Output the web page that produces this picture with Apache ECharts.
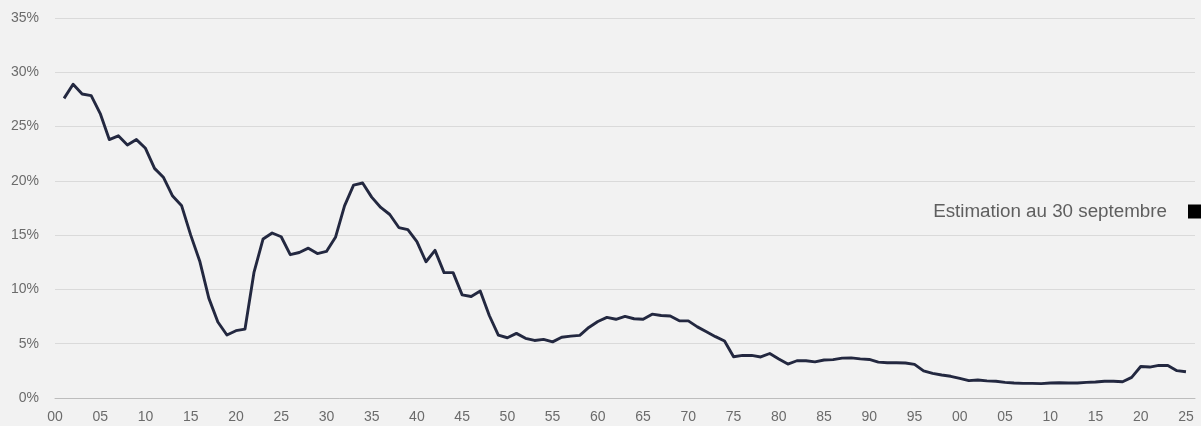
<!DOCTYPE html>
<html>
<head>
<meta charset="utf-8">
<script src="https://cdn.jsdelivr.net/npm/echarts@6/dist/echarts.min.js"></script>
<style>
  html, body { margin: 0; padding: 0; background: #f2f2f2; }
  #chart { width: 1201px; height: 426px; }
</style>
</head>
<body>
<div id="chart"></div>
<script>
// Years of the series (1901 .. 2025)
const years = [];
for (let y = 1901; y <= 2025; y++) years.push(y);

// Values (%), one per year
const values = [
  27.6, 28.9, 28.0, 27.85, 26.2, 23.8, 24.15, 23.3, 23.8, 23.0,   // 1901-1910
  21.15, 20.3, 18.6, 17.7, 15.0, 12.6, 9.2, 7.0, 5.8, 6.2,        // 1911-1920
  6.35, 11.6, 14.65, 15.2, 14.85, 13.2, 13.4, 13.8, 13.3, 13.5,   // 1921-1930
  14.8, 17.7, 19.6, 19.8, 18.5, 17.55, 16.9, 15.7, 15.5, 14.4,    // 1931-1940
  12.55, 13.6, 11.55, 11.55, 9.5, 9.35, 9.85, 7.6, 5.8, 5.55,     // 1941-1950
  5.95, 5.5, 5.3, 5.4, 5.17, 5.6, 5.7, 5.77, 6.5, 7.05,           // 1951-1960
  7.42, 7.25, 7.52, 7.3, 7.25, 7.72, 7.6, 7.55, 7.12, 7.1,        // 1961-1970
  6.55, 6.1, 5.65, 5.25, 3.8, 3.93, 3.92, 3.78, 4.1, 3.6,         // 1971-1980
  3.13, 3.43, 3.43, 3.33, 3.5, 3.53, 3.67, 3.7, 3.6, 3.55,        // 1981-1990
  3.3, 3.25, 3.25, 3.22, 3.1, 2.5, 2.27, 2.12, 2.0, 1.8,          // 1991-2000
  1.6, 1.66, 1.58, 1.54, 1.44, 1.38, 1.35, 1.35, 1.32, 1.38,      // 2001-2010
  1.4, 1.38, 1.38, 1.44, 1.47, 1.54, 1.54, 1.5, 1.9, 2.9,         // 2011-2020
  2.85, 3.0, 3.0, 2.52, 2.42                                      // 2021-2025
];

// Axis ticks
const yTicks = [0, 5, 10, 15, 20, 25, 30, 35];
const xTickYears = [];
for (let y = 1900; y <= 2025; y += 5) xTickYears.push(y);

const legendLabel = 'Estimation au 30 septembre';

const chart = echarts.init(document.getElementById('chart'), null, { renderer: 'canvas' });

const fontFamily = '"Liberation Sans", Arial, Helvetica, sans-serif';

chart.setOption({
  backgroundColor: '#f2f2f2',
  animation: false,
  grid: { left: 55, right: 6, top: 18, bottom: 28, containLabel: false },
  legend: {
    data: [{ name: legendLabel, icon: 'rect' }],
    right: 0,
    top: 202,
    padding: 0,
    align: 'right',
    itemWidth: 13,
    itemHeight: 14,
    itemStyle: { color: '#000000' },
    textStyle: {
      color: '#5f5f5f',
      fontSize: 18.8,
      fontFamily: fontFamily,
      padding: [0, 16, 0, 0]
    }
  },
  xAxis: {
    type: 'value',
    min: 1900,
    max: 2026,
    interval: 5,
    axisLine: { show: true, lineStyle: { color: '#bdbdbd', width: 1 } },
    axisTick: { show: false },
    splitLine: { show: false },
    axisLabel: {
      color: '#6b6b6b',
      fontSize: 14,
      fontFamily: fontFamily,
      margin: 12,
      showMaxLabel: false,
      formatter: function (v) {
        if (xTickYears.indexOf(v) < 0) return '';
        const s = String(v % 100);
        return s.length < 2 ? '0' + s : s;
      }
    }
  },
  yAxis: {
    type: 'value',
    min: yTicks[0],
    max: yTicks[yTicks.length - 1],
    interval: 5,
    axisLine: { show: false },
    axisTick: { show: false },
    splitLine: { show: true, lineStyle: { color: '#dadada', width: 1 } },
    axisLabel: {
      color: '#6b6b6b',
      fontSize: 14,
      fontFamily: fontFamily,
      margin: 16,
      formatter: '{value}%'
    }
  },
  series: [
    {
      name: 'Taux',
      type: 'line',
      data: years.map((y, i) => [y, values[i]]),
      showSymbol: false,
      symbol: 'none',
      lineStyle: { color: '#232840', width: 2.9, join: 'round' },
      z: 3
    },
    {
      name: legendLabel,
      type: 'line',
      data: [],
      itemStyle: { color: '#000000' },
      lineStyle: { color: '#000000' }
    }
  ]
});
</script>
</body>
</html>
